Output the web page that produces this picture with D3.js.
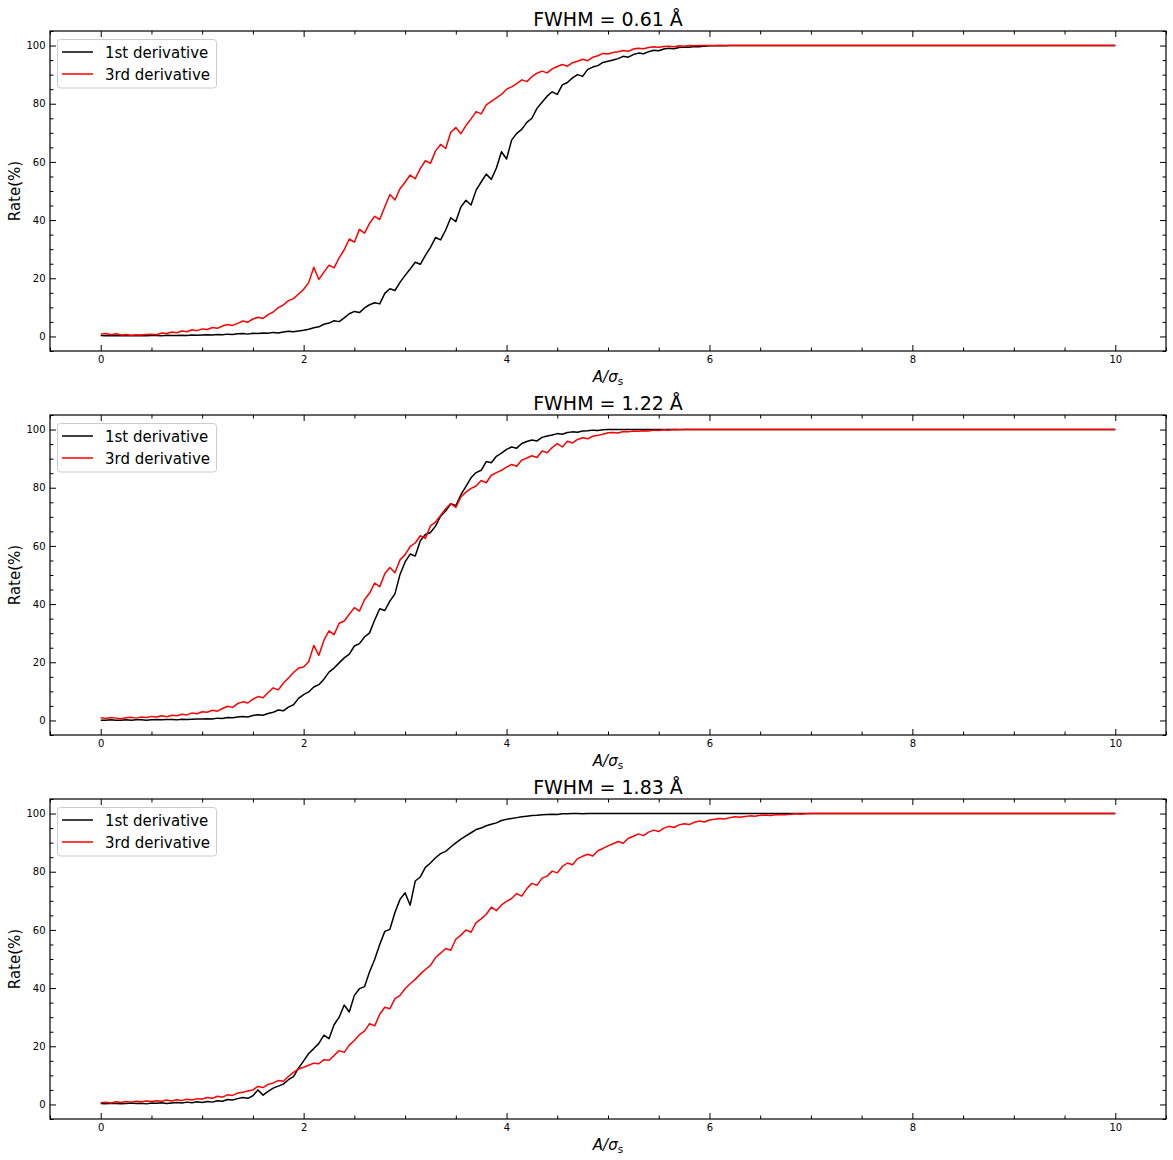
<!DOCTYPE html>
<html><head><meta charset="utf-8">
<script src="https://cdn.jsdelivr.net/npm/d3@7"></script>
<style>body{margin:0;background:#fff}text{font-family:"DejaVu Sans",sans-serif;fill:#000}</style>
</head><body><svg id="c" width="1173" height="1160"></svg>
<script>
// x grid: A/sigma_s from 0 to 10 in steps of 0.05 (201 samples)
const X_STEP = 0.05;
const panelTitles = ["FWHM = 0.61 Å", "FWHM = 1.22 Å", "FWHM = 1.83 Å"];
const seriesNames = ["1st derivative", "3rd derivative"];
const seriesColors = ["#000000", "#ff0000"];
const xMajorTicks = [0, 2, 4, 6, 8, 10];
const xMinorTicks = [-0.5, 0.5, 1, 1.5, 2.5, 3, 3.5, 4.5, 5, 5.5, 6.5, 7, 7.5, 8.5, 9, 9.5, 10.5];
const yMajorTicks = [0, 20, 40, 60, 80, 100];
const yMinorTicks = [-5, 5, 10, 15, 25, 30, 35, 45, 50, 55, 65, 70, 75, 85, 90, 95, 105];

const p1First = [
0.3,0.2,0.3,0.2,0.2,0.3,0.2,0.2,0.3,0.2,0.3,0.3,0.2,0.4,0.3,0.3,0.4,0.3,0.5,0.4,0.5,
0.6,0.5,0.7,0.6,0.8,0.7,0.9,1.0,0.8,1.1,1.0,1.2,1.1,1.4,1.2,1.5,1.8,1.6,1.9,2.1,
2.5,3.0,3.3,4.2,4.6,5.4,5.1,6.4,7.8,8.6,8.2,9.8,10.9,11.6,11.2,14.8,16.4,15.8,18.6,21.0,
23.2,25.5,24.8,27.9,30.6,34.0,33.2,36.6,40.8,39.5,44.5,46.8,45.2,50.3,53.1,55.8,54.0,57.9,63.5,61.0,
67.5,69.8,71.2,73.6,75.0,78.4,80.5,82.6,84.1,83.2,86.5,87.3,88.9,90.0,89.4,91.8,92.6,93.1,94.2,94.6,
95.0,95.5,96.3,96.0,96.9,97.4,97.2,97.9,98.4,98.2,98.8,99.1,98.9,99.3,99.5,99.4,99.7,99.6,99.8,99.9,
99.9,100,99.9,100,100,100,100,100,100,100,100,100,100,100,100,100,100,100,100,100,
100,100,100,100,100,100,100,100,100,100,100,100,100,100,100,100,100,100,100,100,
100,100,100,100,100,100,100,100,100,100,100,100,100,100,100,100,100,100,100,100,
100,100,100,100,100,100,100,100,100,100,100,100,100,100,100,100,100,100,100,100];
const p1Third = [
0.8,1.0,0.6,0.9,0.5,0.7,0.4,0.6,0.5,0.7,0.8,0.6,1.2,1.0,1.5,1.3,1.9,1.6,2.3,2.0,2.6,
2.4,3.1,2.8,3.6,4.1,3.8,4.5,5.3,4.9,6.0,6.6,6.2,7.5,8.4,9.9,10.8,12.3,13.0,14.6,16.2,
18.5,23.8,19.6,22.1,24.5,23.6,27.0,29.8,33.5,32.4,36.8,35.5,38.9,41.3,40.2,44.6,48.8,46.9,50.8,53.0,
55.5,54.2,57.8,60.4,59.5,63.8,66.0,64.6,70.2,71.8,69.7,72.5,74.8,77.3,76.5,79.6,80.8,82.0,83.2,85.0,
85.8,86.9,88.2,87.6,89.3,90.5,91.2,90.6,92.0,92.8,93.5,92.9,94.1,94.6,95.3,94.8,96.0,96.5,97.3,97.1,
97.6,97.9,98.3,98.0,98.8,99.1,98.9,99.3,99.6,99.4,99.7,99.8,99.6,99.9,99.8,100,99.9,100,100,100,
100,100,100,100,100,100,100,100,100,100,100,100,100,100,100,100,100,100,100,100,
100,100,100,100,100,100,100,100,100,100,100,100,100,100,100,100,100,100,100,100,
100,100,100,100,100,100,100,100,100,100,100,100,100,100,100,100,100,100,100,100,
100,100,100,100,100,100,100,100,100,100,100,100,100,100,100,100,100,100,100,100];
const p2First = [
0.1,0.1,0.2,0.1,0.1,0.2,0.1,0.2,0.2,0.1,0.2,0.3,0.2,0.3,0.3,0.2,0.4,0.3,0.4,0.5,0.5,
0.6,0.5,0.8,0.7,1.0,0.9,1.2,1.4,1.2,1.7,2.0,1.8,2.4,2.8,3.6,3.3,4.6,5.4,7.6,8.9,
9.8,11.5,12.3,14.2,16.6,18.0,19.8,21.5,22.8,25.6,26.4,28.7,30.1,34.5,38.4,37.8,41.0,43.5,50.2,54.5,
57.2,56.5,61.8,63.9,64.6,66.8,70.2,72.0,74.5,73.8,77.6,80.5,83.4,85.2,86.0,89.0,88.6,90.8,91.9,93.2,
94.0,93.6,95.2,95.9,96.4,96.1,97.3,97.8,98.1,98.6,98.4,99.0,99.2,99.1,99.5,99.6,99.8,99.7,99.9,100,
100,100,100,100,100,100,100,100,100,100,100,100,100,100,100,100,100,100,100,100,
100,100,100,100,100,100,100,100,100,100,100,100,100,100,100,100,100,100,100,100,
100,100,100,100,100,100,100,100,100,100,100,100,100,100,100,100,100,100,100,100,
100,100,100,100,100,100,100,100,100,100,100,100,100,100,100,100,100,100,100,100,
100,100,100,100,100,100,100,100,100,100,100,100,100,100,100,100,100,100,100,100];
const p2Third = [
0.9,0.7,1.0,0.8,0.6,0.9,1.1,0.8,1.2,1.0,1.4,1.2,1.6,1.3,1.8,1.6,2.1,1.9,2.6,2.3,3.0,
2.8,3.5,3.2,4.1,4.9,4.5,5.8,6.4,6.0,7.3,8.2,7.8,9.6,11.2,10.5,12.8,14.6,16.5,18.0,18.4,
20.2,25.8,22.4,27.6,30.8,29.5,33.4,34.2,36.5,38.8,37.6,41.5,43.8,47.2,46.0,50.4,52.6,50.8,55.2,57.0,
59.8,61.0,63.5,62.6,66.9,68.2,70.5,72.8,74.6,73.2,76.8,78.5,79.8,80.6,82.5,81.7,84.3,85.2,86.0,87.1,
88.0,87.4,89.5,90.2,91.0,90.4,92.6,92.0,93.8,95.2,94.0,96.0,95.4,96.6,97.2,96.8,97.7,98.0,98.4,98.9,
99.0,98.8,99.3,99.2,99.5,99.4,99.6,99.5,99.8,99.7,99.9,99.8,100,99.9,100,100,100,100,100,100,
100,100,100,100,100,100,100,100,100,100,100,100,100,100,100,100,100,100,100,100,
100,100,100,100,100,100,100,100,100,100,100,100,100,100,100,100,100,100,100,100,
100,100,100,100,100,100,100,100,100,100,100,100,100,100,100,100,100,100,100,100,
100,100,100,100,100,100,100,100,100,100,100,100,100,100,100,100,100,100,100,100];
const p3First = [
0.3,0.2,0.4,0.3,0.2,0.3,0.5,0.3,0.4,0.2,0.5,0.4,0.6,0.3,0.5,0.7,0.5,0.8,0.6,0.9,0.7,
1.0,0.8,1.3,1.1,1.7,1.5,2.0,2.4,2.1,3.0,5.0,3.2,4.5,5.6,6.3,7.0,8.5,9.6,12.5,15.0,
17.5,19.2,21.0,23.8,22.6,27.4,30.0,34.2,31.8,37.5,39.8,40.5,45.6,49.8,55.0,59.5,60.2,66.0,70.5,72.8,
68.5,76.8,78.2,81.5,83.0,84.8,86.2,87.0,88.5,89.9,91.2,92.3,93.4,94.5,95.0,95.8,96.3,96.8,97.6,98.0,
98.3,98.6,98.9,99.1,99.3,99.4,99.6,99.7,99.8,99.7,99.9,99.9,100,100,99.9,100,100,100,100,100,
100,100,100,100,100,100,100,100,100,100,100,100,100,100,100,100,100,100,100,100,
100,100,100,100,100,100,100,100,100,100,100,100,100,100,100,100,100,100,100,100,
100,100,100,100,100,100,100,100,100,100,100,100,100,100,100,100,100,100,100,100,
100,100,100,100,100,100,100,100,100,100,100,100,100,100,100,100,100,100,100,100,
100,100,100,100,100,100,100,100,100,100,100,100,100,100,100,100,100,100,100,100];
const p3Third = [
0.6,0.8,0.5,0.9,0.7,1.0,0.8,1.1,0.9,1.2,1.0,1.3,1.1,1.5,1.2,1.6,1.4,1.8,1.5,2.0,1.9,
2.4,2.1,2.8,2.5,3.3,3.1,3.9,4.2,4.6,5.0,6.2,5.8,6.9,7.4,8.2,8.0,9.6,11.0,12.2,12.8,
13.5,14.2,14.0,15.4,15.2,16.8,18.5,17.9,20.4,22.0,24.0,25.2,27.8,27.0,31.0,33.4,32.9,36.4,37.5,39.8,
41.5,43.0,44.8,46.4,47.8,50.5,52.0,53.6,53.0,56.8,58.2,60.0,59.2,62.5,63.8,65.4,67.8,66.6,68.6,69.8,
70.8,72.5,71.6,74.2,76.0,75.3,77.8,78.5,80.2,79.6,81.8,83.0,82.4,84.5,85.3,86.0,85.4,87.2,88.0,88.9,
89.6,90.4,89.8,91.5,92.2,93.0,92.4,93.6,94.3,93.8,95.0,95.6,95.2,96.1,96.5,96.2,97.0,97.4,97.1,97.8,
98.0,98.3,98.1,98.6,98.9,98.7,99.0,99.2,99.1,99.4,99.5,99.3,99.6,99.7,99.6,99.8,99.9,99.8,99.9,100,
100,100,100,100,100,100,100,100,100,100,100,100,100,100,100,100,100,100,100,100,
100,100,100,100,100,100,100,100,100,100,100,100,100,100,100,100,100,100,100,100,
100,100,100,100,100,100,100,100,100,100,100,100,100,100,100,100,100,100,100,100];

const panelSeries = [[p1First, p1Third], [p2First, p2Third], [p3First, p3Third]];

const W = 1173, left = 50, right = 1166, ph = 320;
const tops = [31, 415, 799];
const svg = d3.select("#c");
const x = d3.scaleLinear().domain([-0.5, 10.5]).range([left, right]);

panelSeries.forEach((series, pi) => {
  const top = tops[pi];
  const y = d3.scaleLinear().domain([-5, 105]).range([top + ph, top]);
  const g = svg.append("g");

  // lines
  const line = d3.line().x((d, i) => x(i * X_STEP)).y(d => y(d));
  series.forEach((vals, si) => {
    g.append("path").datum(vals).attr("d", line)
      .attr("fill", "none").attr("stroke", seriesColors[si])
      .attr("stroke-width", 1.5).attr("stroke-linejoin", "round");
  });

  // axes (inward ticks on all sides)
  const addAxis = (axisGen, transform, labels) => {
    const a = g.append("g").attr("transform", transform).call(axisGen);
    a.select(".domain").remove();
    a.selectAll(".tick line").attr("stroke", "#000").attr("stroke-width", 1);
    if (!labels) a.selectAll(".tick text").remove();
    else a.selectAll(".tick text").attr("font-size", 10).attr("font-family", "DejaVu Sans").attr("fill", "#000");
    return a;
  };
  const fmt = d3.format("d");
  addAxis(d3.axisBottom(x).tickValues(xMajorTicks).tickSize(-6).tickPadding(5).tickFormat(fmt), `translate(0,${top + ph})`, true);
  addAxis(d3.axisBottom(x).tickValues(xMinorTicks).tickSize(-3.5).tickFormat(""), `translate(0,${top + ph})`, false);
  addAxis(d3.axisTop(x).tickValues(xMajorTicks).tickSize(-6).tickFormat(""), `translate(0,${top})`, false);
  addAxis(d3.axisTop(x).tickValues(xMinorTicks).tickSize(-3.5).tickFormat(""), `translate(0,${top})`, false);
  addAxis(d3.axisLeft(y).tickValues(yMajorTicks).tickSize(-6).tickPadding(4.5).tickFormat(fmt), `translate(${left},0)`, true);
  addAxis(d3.axisLeft(y).tickValues(yMinorTicks).tickSize(-3.5).tickFormat(""), `translate(${left},0)`, false);
  addAxis(d3.axisRight(y).tickValues(yMajorTicks).tickSize(-6).tickFormat(""), `translate(${right},0)`, false);
  addAxis(d3.axisRight(y).tickValues(yMinorTicks).tickSize(-3.5).tickFormat(""), `translate(${right},0)`, false);

  // frame
  g.append("rect").attr("x", left).attr("y", top).attr("width", right - left).attr("height", ph)
    .attr("fill", "none").attr("stroke", "#000").attr("stroke-width", 1.2);

  // title
  g.append("text").attr("x", (left + right) / 2).attr("y", top - 5)
    .attr("text-anchor", "middle").attr("font-size", 19).text(panelTitles[pi]);

  // x label
  const xl = g.append("text").attr("x", (left + right) / 2).attr("y", top + ph + 31)
    .attr("text-anchor", "middle").attr("font-size", 15);
  xl.append("tspan").attr("font-style", "italic").text("A/σ");
  xl.append("tspan").attr("font-size", 10.5).attr("dy", 3).text("s");

  // y label
  g.append("text").attr("transform", `translate(20,${top + ph / 2}) rotate(-90)`)
    .attr("text-anchor", "middle").attr("font-size", 15).text("Rate(%)");

  // legend
  const lg = g.append("g");
  lg.append("rect").attr("x", 57.5).attr("y", top + 8.5).attr("width", 159).attr("height", 48.5)
    .attr("rx", 3).attr("fill", "#fff").attr("fill-opacity", 0.8).attr("stroke", "#cccccc").attr("stroke-width", 1);
  seriesNames.forEach((name, si) => {
    const ly = top + 21 + si * 22;
    lg.append("line").attr("x1", 62).attr("x2", 93).attr("y1", ly).attr("y2", ly)
      .attr("stroke", seriesColors[si]).attr("stroke-width", 1.5);
    lg.append("text").attr("x", 105).attr("y", ly + 6).attr("font-size", 15).text(name);
  });
});
</script></body></html>
